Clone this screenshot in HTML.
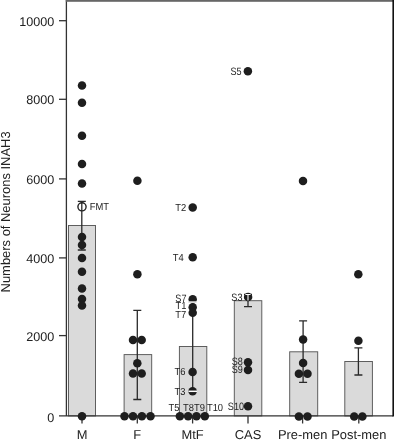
<!DOCTYPE html>
<html><head><meta charset="utf-8"><title>Numbers of Neurons INAH3</title>
<style>
html,body{margin:0;padding:0;background:#fff;}
body{width:394px;height:440px;overflow:hidden;}
svg{display:block;font-family:"Liberation Sans",sans-serif;text-rendering:geometricPrecision;}
</style></head><body>
<svg width="394" height="440" viewBox="0 0 394 440">
<rect width="394" height="440" fill="#fff"/>

<g fill="#dadada" stroke="#585858" stroke-width="0.95">
<rect x="68.5" y="225.5" width="27.00" height="190.40"/>
<rect x="124.1" y="354.6" width="27.60" height="61.30"/>
<rect x="179.4" y="346.5" width="27.40" height="69.40"/>
<rect x="234.3" y="300.7" width="27.50" height="115.20"/>
<rect x="289.7" y="351.8" width="28.00" height="64.10"/>
<rect x="344.8" y="361.5" width="27.60" height="54.40"/>
</g>
<g stroke="#333" stroke-width="1.3" fill="none">
<line x1="66.4" y1="0" x2="66.4" y2="415.9"/>
<line x1="59" y1="415.9" x2="393" y2="415.9"/>
<line x1="59" y1="20.7" x2="66.6" y2="20.7"/>
<line x1="59" y1="99.3" x2="66.6" y2="99.3"/>
<line x1="59" y1="178.9" x2="66.6" y2="178.9"/>
<line x1="59" y1="257.9" x2="66.6" y2="257.9"/>
<line x1="59" y1="335.6" x2="66.6" y2="335.6"/>
<line x1="82" y1="415.9" x2="82" y2="423.5"/>
<line x1="137.3" y1="415.9" x2="137.3" y2="423.5"/>
<line x1="192.6" y1="415.9" x2="192.6" y2="423.5"/>
<line x1="248" y1="415.9" x2="248" y2="423.5"/>
<line x1="302.6" y1="415.9" x2="302.6" y2="423.5"/>
<line x1="358.8" y1="415.9" x2="358.8" y2="423.5"/>
</g>
<rect x="65.8" y="0" width="328.2" height="1.8" fill="#666"/>
<rect x="392.4" y="0" width="1.6" height="416.5" fill="#111"/>
<g stroke="#2a2a2a" stroke-width="1.3" fill="none">
<path d="M77.8 201.3H85.8M81.8 201.3V250M77.8 250H85.8"/>
<path d="M133.3 310.3H141.3M137.3 310.3V399.5M133.3 399.5H141.3"/>
<path d="M188.7 302.1H196.7M192.7 302.1V391.3M188.7 391.3H196.7"/>
<path d="M244 294.5H252M248 294.5V306.6M244 306.6H252"/>
<path d="M299.1 320.8H307.1M303.1 320.8V382.3M299.1 382.3H307.1"/>
<path d="M354.4 347.8H362.4M358.4 347.8V375M354.4 375H362.4"/>
</g>
<g fill="#1e1e1e">
<circle cx="82.0" cy="85.5" r="4.25"/>
<circle cx="82.0" cy="102.75" r="4.25"/>
<circle cx="82.0" cy="135.75" r="4.25"/>
<circle cx="82.0" cy="164" r="4.25"/>
<circle cx="82.0" cy="183.5" r="4.25"/>
<circle cx="82.0" cy="237" r="4.25"/>
<circle cx="82.0" cy="245" r="4.25"/>
<circle cx="82.0" cy="258" r="4.25"/>
<circle cx="82.0" cy="271.7" r="4.25"/>
<circle cx="82.0" cy="288.5" r="4.25"/>
<circle cx="82.0" cy="299" r="4.25"/>
<circle cx="82.0" cy="305.5" r="4.25"/>
<circle cx="82.0" cy="416.3" r="4.25"/>
<circle cx="137.4" cy="180.7" r="4.25"/>
<circle cx="137.4" cy="274.3" r="4.25"/>
<circle cx="133" cy="340" r="4.25"/>
<circle cx="141.7" cy="340" r="4.25"/>
<circle cx="137.3" cy="363.2" r="4.25"/>
<circle cx="133" cy="373.5" r="4.25"/>
<circle cx="141.7" cy="373.5" r="4.25"/>
<circle cx="124.5" cy="416.3" r="4.25"/>
<circle cx="133" cy="416.3" r="4.25"/>
<circle cx="141.9" cy="416.3" r="4.25"/>
<circle cx="150.5" cy="416.3" r="4.25"/>
<circle cx="192.7" cy="207.4" r="4.25"/>
<circle cx="192.7" cy="257.2" r="4.25"/>
<circle cx="192.7" cy="299.2" r="4.25"/>
<circle cx="192.7" cy="307.2" r="4.25"/>
<circle cx="192.7" cy="312.7" r="4.25"/>
<circle cx="192.6" cy="372.0" r="4.25"/>
<circle cx="192.6" cy="391.3" r="4.25"/>
<circle cx="179.9" cy="416.3" r="4.25"/>
<circle cx="188.1" cy="416.3" r="4.25"/>
<circle cx="196.5" cy="416.3" r="4.25"/>
<circle cx="204.8" cy="416.3" r="4.25"/>
<circle cx="247.9" cy="71.3" r="4.25"/>
<circle cx="248.1" cy="297.0" r="4.25"/>
<circle cx="248" cy="362.2" r="4.25"/>
<circle cx="248" cy="369.9" r="4.25"/>
<circle cx="248" cy="406.2" r="4.25"/>
<circle cx="303" cy="180.9" r="4.25"/>
<circle cx="303.1" cy="339.6" r="4.25"/>
<circle cx="303.1" cy="363.1" r="4.25"/>
<circle cx="298.9" cy="373.8" r="4.25"/>
<circle cx="307.5" cy="373.8" r="4.25"/>
<circle cx="298.9" cy="416.4" r="4.25"/>
<circle cx="307.5" cy="416.4" r="4.25"/>
<circle cx="358.3" cy="274.2" r="4.25"/>
<circle cx="358.4" cy="340.7" r="4.25"/>
<circle cx="354.2" cy="416.5" r="4.25"/>
<circle cx="362.4" cy="416.5" r="4.25"/>
</g>
<g stroke="#fff" stroke-width="1.5" fill="none">
<path d="M188.4 302.1H197"/>
<path d="M188.4 391.3H197"/>
<path stroke-width="1.1" d="M245.4 294.5H250.6M248 294.5V300.4"/>
</g>
<circle cx="82" cy="206.8" r="4.1" fill="none" stroke="#222" stroke-width="1.4"/>
<g font-size="10.2" fill="#222" text-anchor="end">
<text transform="translate(186.3 210.5) scale(0.92 1)">T2</text>
<text transform="translate(183.8 260.6) scale(0.92 1)">T4</text>
<text font-size="10.7" transform="translate(186.45000000000002 302.3) scale(0.85 1)">S7</text>
<text transform="translate(186.5 309.4) scale(0.92 1)">T1</text>
<text transform="translate(186.3 317.6) scale(0.92 1)">T7</text>
<text transform="translate(185.5 375.3) scale(0.92 1)">T6</text>
<text transform="translate(185.5 394.6) scale(0.92 1)">T3</text>
<text font-size="10.7" transform="translate(241.65 75) scale(0.85 1)">S5</text>
<text font-size="10.7" transform="translate(242.45000000000002 300.5) scale(0.85 1)">S3</text>
<text font-size="10.7" transform="translate(242.75 364.9) scale(0.85 1)">S8</text>
<text font-size="10.7" transform="translate(242.75 372.9) scale(0.85 1)">S9</text>
<text font-size="10.7" transform="translate(244.05 409.6) scale(0.85 1)">S10</text>
</g>
<g font-size="10.2" fill="#222">
<text transform="translate(89.8 209.9) scale(0.92 1)">FMT</text>
<text transform="translate(168.4 411) scale(0.92 1)">T5</text>
<text transform="translate(183.1 411) scale(0.92 1)">T8T9</text>
<text transform="translate(206.9 411) scale(0.92 1)">T10</text>
</g>
<g font-size="12.6" fill="#222" text-anchor="end">
<text x="54.3" y="25.8">10000</text>
<text x="54.3" y="104.35">8000</text>
<text x="54.3" y="183.9">6000</text>
<text x="54.3" y="263.05">4000</text>
<text x="54.3" y="341.0">2000</text>
<text x="54.3" y="421.7">0</text>
</g>
<g font-size="12.9" fill="#222" text-anchor="middle">
<text x="82" y="439">M</text>
<text x="137.3" y="439">F</text>
<text x="192.6" y="439">MtF</text>
<text x="248" y="439">CAS</text>
<text x="302.6" y="439">Pre-men</text>
<text x="358.8" y="439">Post-men</text>
</g>
<text font-size="12.95" fill="#222" text-anchor="middle" transform="translate(9.9 211.9) rotate(-90)">Numbers of Neurons INAH3</text>
</svg></body></html>
